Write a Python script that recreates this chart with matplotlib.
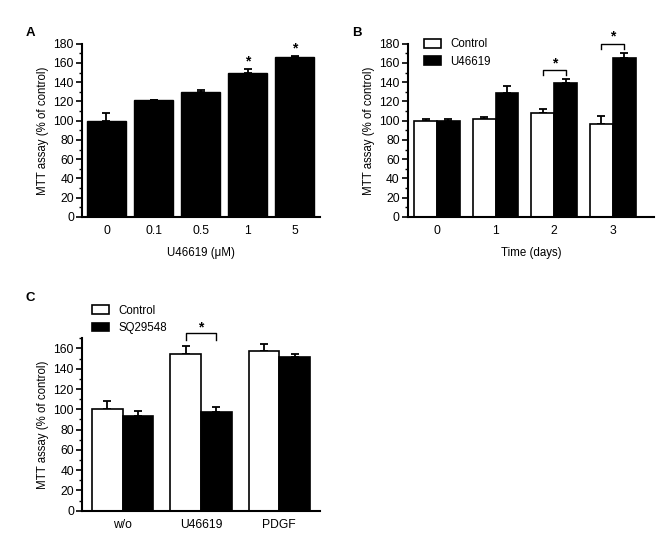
import matplotlib
matplotlib.use("Agg")
import matplotlib.pyplot as plt
from matplotlib.patches import Patch
from matplotlib.ticker import MultipleLocator
import numpy as np

plt.rcParams['font.family'] = ['Liberation Sans', 'DejaVu Sans']

# Panel A
a_labels = ['0', '0.1', '0.5', '1', '5']
a_vals = [100, 122, 130, 150, 166]
a_err = [8, 0, 2, 4, 1]
a_sig = [False, False, False, True, True]

# Panel B
b_labels = ['0', '1', '2', '3']
b_ctrl = [100, 102, 108, 97]
b_ctrl_err = [2, 2, 4, 8]
b_u = [100, 129, 139, 165]
b_u_err = [2, 7, 4, 5]

# Panel C
c_labels = ['w/o', 'U46619', 'PDGF']
c_ctrl = [100, 155, 157]
c_ctrl_err = [8, 7, 7]
c_sq = [93, 97, 152]
c_sq_err = [5, 5, 3]

fig = plt.figure(figsize=(6.7, 5.51), dpi=100)
TFS = 8.7
LFS = 8.3

def style(ax, ymax, major=20, minor=10):
    for s in ['top', 'right']:
        ax.spines[s].set_visible(False)
    for s in ['left', 'bottom']:
        ax.spines[s].set_linewidth(1.5)
    ax.set_ylim(0, ymax)
    ax.yaxis.set_major_locator(MultipleLocator(major))
    ax.yaxis.set_minor_locator(MultipleLocator(minor))
    ax.tick_params(axis='y', which='major', length=4, width=1.2, labelsize=TFS, pad=2)
    ax.tick_params(axis='y', which='minor', length=2.5, width=1.0)
    ax.tick_params(axis='x', length=0, labelsize=TFS, pad=6)
    ax.set_ylabel('MTT assay (% of control)', fontsize=LFS, labelpad=3)

def errs(ax, x, y, e):
    ax.errorbar(x, y, yerr=[np.zeros(len(e)), e], fmt='none', ecolor='black',
                elinewidth=1.3, capsize=2.8, capthick=1.3, zorder=1)

def bracket(ax, x1, x2, top, drop, star):
    ax.plot([x1, x1, x2, x2], [top - drop, top, top, top - drop], color='black',
            lw=1.0, clip_on=False)
    ax.text((x1 + x2) / 2, star, '*', ha='center', va='center', fontsize=10,
            fontweight='bold', clip_on=False)

# A
axA = fig.add_axes([0.1228, 0.6062, 0.3548, 0.3145])
xa = np.arange(len(a_vals))
axA.bar(xa, a_vals, width=0.83, color='black', edgecolor='black', zorder=2)
errs(axA, xa, a_vals, a_err)
for i, s in enumerate(a_sig):
    if s:
        axA.text(xa[i], a_vals[i] + a_err[i] + 8, '*', ha='center', va='center',
                 fontsize=10, fontweight='bold', clip_on=False)
axA.set_xlim(-0.515, 4.54)
axA.set_xticks(xa)
axA.set_xticklabels(a_labels)
style(axA, 180)
axA.set_xlabel('U46619 (\u03bcM)', fontsize=LFS, labelpad=7)
fig.text(0.039, 0.94, 'A', fontsize=9.5, fontweight='bold', va='center')

# B
axB = fig.add_axes([0.609, 0.6062, 0.367, 0.3145])
xb = np.arange(len(b_ctrl))
w = 0.39
axB.bar(xb - w / 2, b_ctrl, width=w, color='white', edgecolor='black', lw=1.2, zorder=2)
axB.bar(xb + w / 2, b_u, width=w, color='black', edgecolor='black', lw=1.2, zorder=2)
errs(axB, xb - w / 2, b_ctrl, b_ctrl_err)
errs(axB, xb + w / 2, b_u, b_u_err)
bracket(axB, 2 - w / 2, 2 + w / 2, 153, 5, 159)
bracket(axB, 3 - w / 2, 3 + w / 2, 180, 6, 187)
axB.set_xlim(-0.494, 3.70)
axB.set_xticks(xb)
axB.set_xticklabels(b_labels)
style(axB, 180)
axB.set_xlabel('Time (days)', fontsize=LFS, labelpad=7)
hB = [Patch(facecolor='white', edgecolor='black', lw=1.2, label='Control'),
      Patch(facecolor='black', edgecolor='black', lw=1.2, label='U46619')]
axB.legend(handles=hB, loc='upper left', bbox_to_anchor=(0.065, 1.03), frameon=False,
           fontsize=LFS, handlelength=1.5, handleheight=0.75, labelspacing=0.45,
           handletextpad=0.8, borderaxespad=0, borderpad=0)
fig.text(0.525, 0.94, 'B', fontsize=9.5, fontweight='bold', va='center')

# C
axC = fig.add_axes([0.1228, 0.0731, 0.3548, 0.3129])
xc = np.arange(len(c_ctrl))
axC.bar(xc - w / 2, c_ctrl, width=w, color='white', edgecolor='black', lw=1.2, zorder=2)
axC.bar(xc + w / 2, c_sq, width=w, color='black', edgecolor='black', lw=1.2, zorder=2)
errs(axC, xc - w / 2, c_ctrl, c_ctrl_err)
errs(axC, xc + w / 2, c_sq, c_sq_err)
bracket(axC, 1 - w / 2, 1 + w / 2, 175, 7, 181)
axC.set_xlim(-0.517, 2.52)
axC.set_xticks(xc)
axC.set_xticklabels(c_labels)
style(axC, 170)
hC = [Patch(facecolor='white', edgecolor='black', lw=1.2, label='Control'),
      Patch(facecolor='black', edgecolor='black', lw=1.2, label='SQ29548')]
axC.legend(handles=hC, loc='upper left', bbox_to_anchor=(0.04, 1.195), frameon=False,
           fontsize=LFS, handlelength=1.5, handleheight=0.75, labelspacing=0.45,
           handletextpad=0.8, borderaxespad=0, borderpad=0)
fig.text(0.038, 0.46, 'C', fontsize=9.5, fontweight='bold', va='center')

fig.savefig('out.png', dpi=100)
